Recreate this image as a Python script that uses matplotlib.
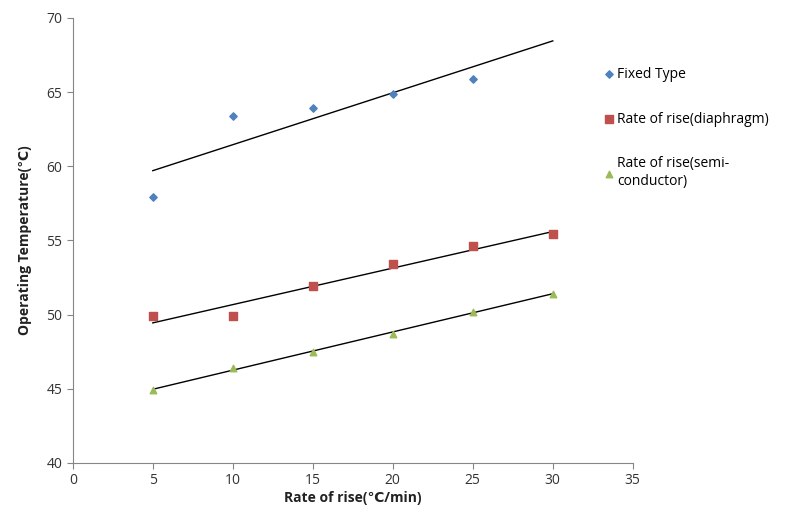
import numpy as np
import matplotlib.pyplot as plt

plt.rcParams['font.family'] = ['Open Sans', 'DejaVu Sans']

x_fixed = [5, 10, 15, 20, 25]
y_fixed = [57.9, 63.4, 63.9, 64.9, 65.9]

x_rate = [5, 10, 15, 20, 25, 30]
y_diaphragm = [49.9, 49.9, 51.9, 53.4, 54.6, 55.4]
y_semi = [44.9, 46.4, 47.5, 48.7, 50.2, 51.4]

fig = plt.figure(figsize=(7.91, 5.26), dpi=100)
ax = fig.add_axes([0.092, 0.12, 0.708, 0.846])

ax.scatter(x_fixed, y_fixed, marker='D', s=14, color='#4F81BD', label='Fixed Type', zorder=3)
ax.scatter(x_rate, y_diaphragm, marker='s', s=26, color='#C0504D', label='Rate of rise(diaphragm)', zorder=3)
ax.scatter(x_rate, y_semi, marker='^', s=22, color='#9BBB59', label='Rate of rise(semi-\nconductor)', zorder=3)

# linear trendlines (fixed type extended forward to 30)
xt = np.array([5, 30])
for xs, ys in [(x_fixed, y_fixed), (x_rate, y_diaphragm), (x_rate, y_semi)]:
    k, b = np.polyfit(xs, ys, 1)
    ax.plot(xt, k * xt + b, color='black', lw=1.0, zorder=2)

ax.set_xlim(0, 35)
ax.set_ylim(40, 70)
ax.set_xticks(range(0, 36, 5))
ax.set_yticks(range(40, 71, 5))
for s in ['top', 'right']:
    ax.spines[s].set_visible(False)
for s in ['left', 'bottom']:
    ax.spines[s].set_color('#868686')
ax.tick_params(colors='#868686', labelcolor='#333333', labelsize=10, length=4)

ax.set_xlabel('Rate of rise(℃/min)', fontsize=10, fontweight='bold', color='#222222', labelpad=2)
ax.set_ylabel('Operating Temperature(℃)', fontsize=10, fontweight='bold', color='#222222', labelpad=10)

fig.legend(loc='upper left', bbox_to_anchor=(0.745, 0.897), frameon=False,
           fontsize=10, labelspacing=2.15, handletextpad=0.1, handlelength=1.0,
           scatterpoints=1)

plt.savefig('out.png')
